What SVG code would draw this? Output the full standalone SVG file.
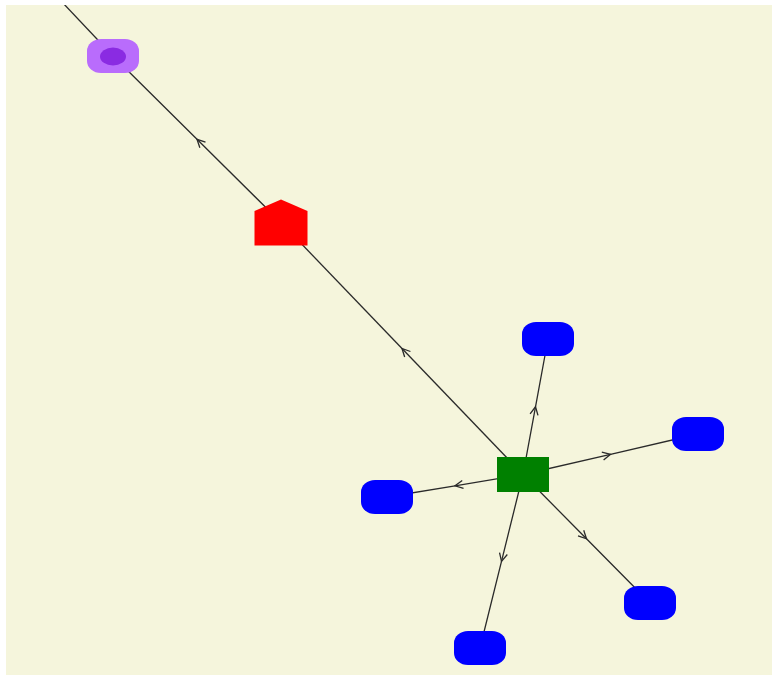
<svg xmlns="http://www.w3.org/2000/svg" width="772" height="675" viewBox="0 0 772 675">
  <style>
    .edge { fill: none; stroke: #2a2a2a; stroke-width: 1.3; marker-mid: url(#chevron); }
    .leaf { fill: #0000ff; }
    .hub { fill: #008000; }
    .gate { fill: #ff0000; }
    .tag-outer { fill: #b96cfc; }
    .tag-inner { fill: #8a2be2; }
  </style>
  <defs>
    <marker id="chevron" viewBox="0 0 10 10" refX="9" refY="5" markerWidth="10" markerHeight="10" markerUnits="userSpaceOnUse" orient="auto">
      <path d="M1,1 L9,5 L1,9" fill="none" stroke="#2a2a2a" stroke-width="1.3"/>
    </marker>
    <clipPath id="canvas">
      <rect x="6" y="5" width="766" height="670"/>
    </clipPath>
  </defs>

  <rect x="0" y="0" width="772" height="675" fill="#ffffff"/>
  <rect x="6" y="5" width="766" height="670" fill="#f5f5dc"/>

  <g id="connectors" clip-path="url(#canvas)">
    <!-- hub to gate, gate to tag, each with a mid-arrow -->
    <polyline class="edge" points="523,474.5 402,348.5 281,222.5"/>
    <polyline class="edge" points="281,222.5 197,139.3 113,56"/>
    <line x1="113" y1="56" x2="62" y2="2" stroke="#2a2a2a" stroke-width="1.3"/>
    <!-- hub to leaves -->
    <polyline class="edge" points="523,474.5 535.5,406.8 548,339"/>
    <polyline class="edge" points="523,474.5 610.5,454.3 698,434"/>
    <polyline class="edge" points="523,474.5 455,485.8 387,497"/>
    <polyline class="edge" points="523,474.5 586.5,538.8 650,603"/>
    <polyline class="edge" points="523,474.5 501.5,561.3 480,648"/>
  </g>

  <g id="tag">
    <rect class="tag-outer" x="87" y="39" width="52" height="34" rx="14" ry="12"/>
    <ellipse class="tag-inner" cx="113" cy="56.5" rx="13" ry="9"/>
  </g>

  <g id="gate">
    <polygon class="gate" points="281,199.5 307.5,211 307.5,245.5 254.5,245.5 254.5,211"/>
  </g>

  <g id="hub">
    <rect class="hub" x="497" y="457" width="52" height="35"/>
  </g>

  <g id="leaf-n">
    <rect class="leaf" x="522" y="322" width="52" height="34" rx="14" ry="12"/>
  </g>
  <g id="leaf-e">
    <rect class="leaf" x="672" y="417" width="52" height="34" rx="14" ry="12"/>
  </g>
  <g id="leaf-w">
    <rect class="leaf" x="361" y="480" width="52" height="34" rx="14" ry="12"/>
  </g>
  <g id="leaf-se">
    <rect class="leaf" x="624" y="586" width="52" height="34" rx="14" ry="12"/>
  </g>
  <g id="leaf-s">
    <rect class="leaf" x="454" y="631" width="52" height="34" rx="14" ry="12"/>
  </g>
</svg>
